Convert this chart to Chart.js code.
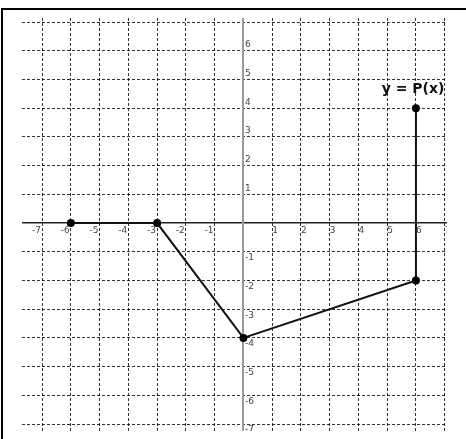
<!DOCTYPE html>
<html>
<head>
<meta charset="utf-8">
<script src="https://cdn.jsdelivr.net/npm/chart.js@4.4.1/dist/chart.umd.min.js"></script>
<style>
  html, body { margin:0; padding:0; background:#fff; }
  #wrap { position:relative; width:466px; height:439px; }
  #graph { display:block; }
  #frameTop { position:absolute; left:1px; top:8px; width:465px; height:2px; background:#000; }
  #frameLeft { position:absolute; left:1px; top:8px; width:2px; height:431px; background:#000; }
</style>
</head>
<body>
<div id="wrap">
  <canvas id="graph" width="466" height="439"></canvas>
  <div id="frameTop"></div>
  <div id="frameLeft"></div>
</div>
<script>
// P(x) corner points
var xs = [-6, -3, 0, 6, 6];
var ys = [0, 0, -4, -2, 4];

// visible window of the grid
var xRange = [-7.7, 7.08];
var yRange = [-7.24, 7.14];

var curveName = 'y = P(x)';
var curveNameAt = [5.9, 4.53];

var pts = [];
for (var i = 0; i < xs.length; i++) {
    pts.push({x: xs[i], y: ys[i]});
}

var tickFont = {family: 'DejaVu Sans', size: 9};

function gridColor(c) {
    if (c.tick && c.tick.value === 0) return 'rgba(0,0,0,0)';
    return 'rgba(0,0,0,0.8)';
}

// clip everything to the plot window, like the original picture
var clipPlugin = {
    id: 'clipAll',
    beforeDraw: function(chart) {
        var a = chart.chartArea;
        chart.ctx.save();
        chart.ctx.beginPath();
        chart.ctx.rect(a.left, a.top, a.right - a.left, a.bottom - a.top);
        chart.ctx.clip();
    },
    afterDraw: function(chart) {
        chart.ctx.restore();
    }
};

// y tick labels sit right of the axis line, shifted away from the origin
var textPlugin = {
    id: 'axisText',
    afterDatasetsDraw: function(chart) {
        var ctx = chart.ctx;
        var sx = chart.scales.x, sy = chart.scales.y;
        var ax = sx.getPixelForValue(0);
        ctx.save();
        ctx.font = '9px "DejaVu Sans"';
        ctx.fillStyle = '#444';
        ctx.textAlign = 'left';
        ctx.textBaseline = 'middle';
        sy.ticks.forEach(function(t) {
            if (t.value === 0) return;
            var py = sy.getPixelForValue(t.value) + (t.value > 0 ? -6 : 6);
            ctx.fillText(String(t.value), ax + 1.5, py);
        });

        ctx.font = 'bold 14px "DejaVu Sans"';
        ctx.fillStyle = '#111';
        ctx.textAlign = 'center';
        ctx.textBaseline = 'alphabetic';
        ctx.fillText(curveName, sx.getPixelForValue(curveNameAt[0]), sy.getPixelForValue(curveNameAt[1]));
        ctx.restore();
    }
};

var ctx1 = document.getElementById('graph').getContext('2d');
var myChart = new Chart(ctx1, {
    type: 'scatter',
    data: {
        datasets: [{
            data: pts,
            showLine: true,
            borderColor: '#111',
            borderWidth: 2,
            backgroundColor: '#000',
            pointRadius: 4,
            pointBorderWidth: 0,
            pointBackgroundColor: '#000'
        }]
    },
    options: {
        responsive: false,
        animation: false,
        layout: {padding: {left: 22, right: 19, top: 18, bottom: 8}},
        plugins: {legend: {display: false}, tooltip: {enabled: false}},
        scales: {
            x: {
                type: 'linear',
                min: xRange[0],
                max: xRange[1],
                position: {y: 0},
                afterFit: function(s) { s.height = 0; },
                grid: {color: gridColor, lineWidth: 1, drawTicks: false},
                border: {display: true, color: '#222', width: 1.5, dash: [3, 2]},
                ticks: {
                    stepSize: 1,
                    includeBounds: false,
                    autoSkip: false,
                    maxRotation: 0,
                    minRotation: 0,
                    padding: 2,
                    font: tickFont,
                    color: '#444',
                    callback: function(v) {
                        if (v === 0) return '';
                        if (v < 0) return v + '    ';
                        return '  ' + v;
                    }
                }
            },
            y: {
                type: 'linear',
                min: yRange[0],
                max: yRange[1],
                position: {x: 0},
                afterFit: function(s) { s.width = 0; },
                grid: {color: gridColor, lineWidth: 1, drawTicks: false},
                border: {display: true, color: '#999', width: 2, dash: [3, 2]},
                ticks: {
                    stepSize: 1,
                    includeBounds: false,
                    autoSkip: false,
                    display: false
                }
            }
        }
    },
    plugins: [clipPlugin, textPlugin]
});
</script>
</body>
</html>
